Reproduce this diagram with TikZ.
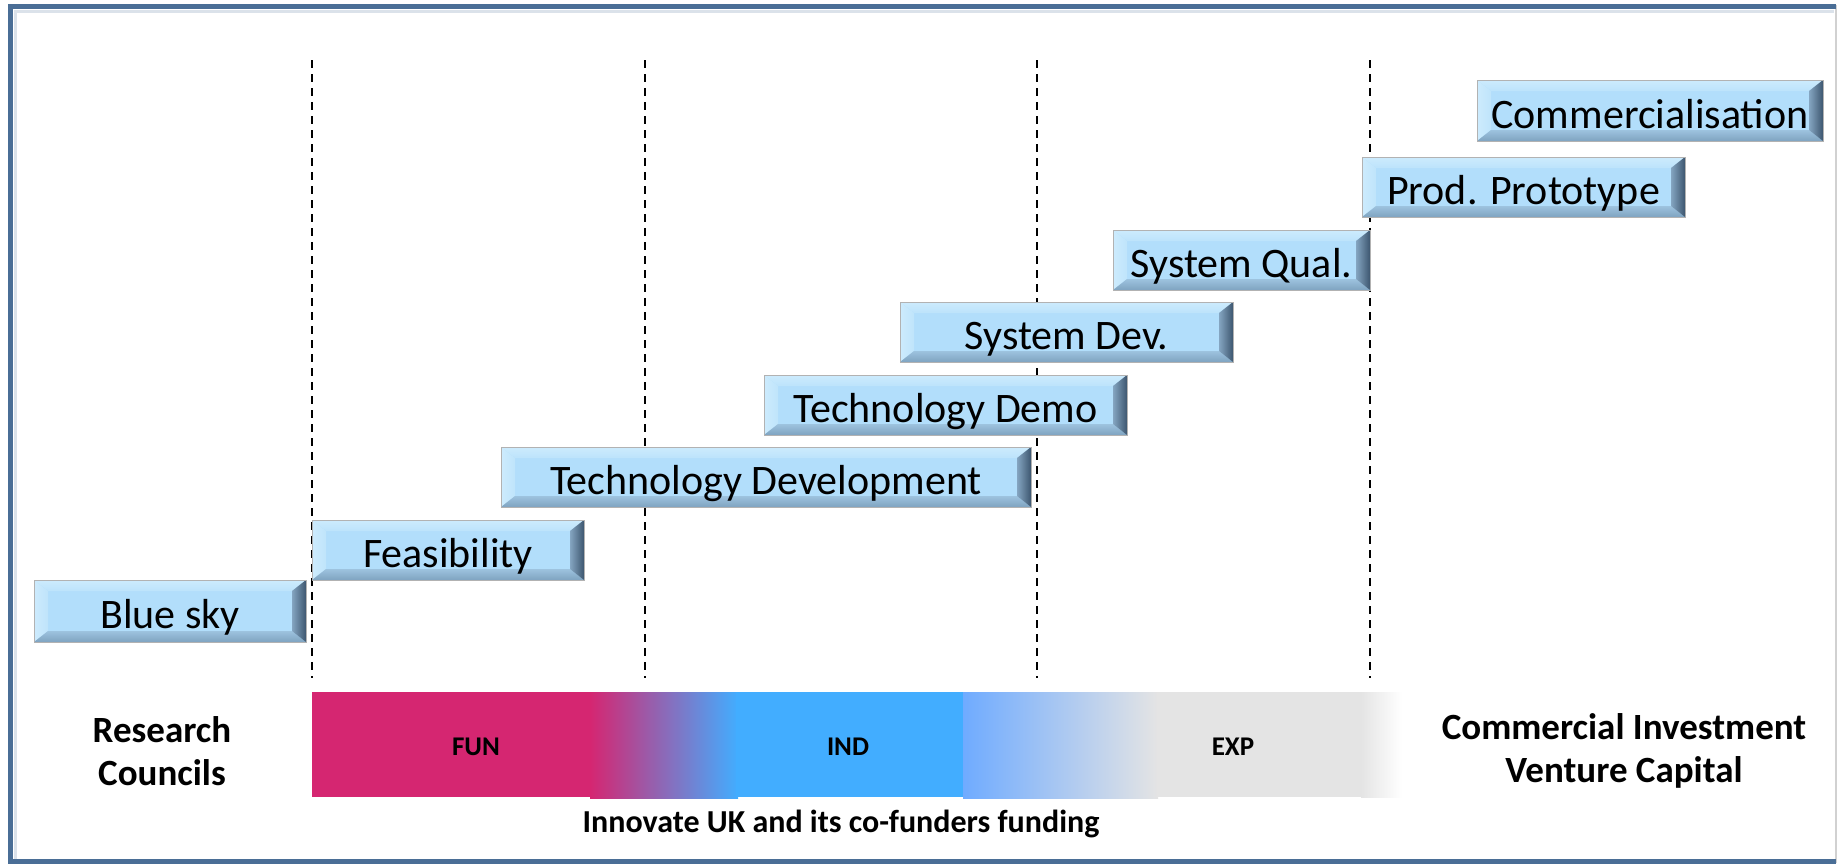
\documentclass[tikz,border=0pt]{standalone}
\usepackage{fontspec}
\setmainfont{Carlito}
\usetikzlibrary{calc}
\definecolor{pinkc}{HTML}{D52671}
\definecolor{bluec}{HTML}{42ADFF}
\definecolor{lbluec}{HTML}{6FABFF}
\definecolor{grayc}{HTML}{E4E4E4}
\definecolor{framec}{HTML}{4A6E96}
\definecolor{facec}{HTML}{B2DEFB}
\definecolor{toplc}{HTML}{CDEBFD}
\definecolor{topdc}{HTML}{BCE3FB}
\definecolor{leftc}{HTML}{BFE4FB}
\definecolor{botlc}{HTML}{9DC3DF}
\definecolor{botdc}{HTML}{7FA3C0}
\definecolor{riglc}{HTML}{84A5C1}
\definecolor{rigdc}{HTML}{3D566F}
\tikzset{
  stagebox/.style={draw=black!30, line width=0.7pt, fill=facec, inner sep=0pt, outer sep=0pt,
    anchor=north west, font=\fontsize{42}{48}\selectfont, text=black,
    text height=40pt, text depth=5pt,
    path picture={
      \path (path picture bounding box.north west) coordinate (pNW)
            (path picture bounding box.north east) coordinate (pNE)
            (path picture bounding box.south west) coordinate (pSW)
            (path picture bounding box.south east) coordinate (pSE);
      \shade[top color=toplc, bottom color=topdc] (pNW) -- (pNE) -- ([shift={(-14pt,-11pt)}]pNE) -- ([shift={(14pt,-11pt)}]pNW) -- cycle;
      \shade[left color=toplc, right color=leftc] (pNW) -- ([shift={(14pt,-11pt)}]pNW) -- ([shift={(14pt,11pt)}]pSW) -- (pSW) -- cycle;
      \shade[top color=botlc, bottom color=botdc] (pSW) -- ([shift={(14pt,11pt)}]pSW) -- ([shift={(-14pt,11pt)}]pSE) -- (pSE) -- cycle;
      \shade[left color=riglc, right color=rigdc] (pNE) -- (pSE) -- ([shift={(-14pt,11pt)}]pSE) -- ([shift={(-14pt,-11pt)}]pNE) -- cycle;
    }},
  divider/.style={black, line width=1.8pt, dash pattern=on 8pt off 6pt},
  sidelabel/.style={font=\bfseries\fontsize{37}{43}\selectfont, align=center, text=black},
  barlabel/.style={font=\bfseries\fontsize{27}{30}\selectfont, text=black},
}
\begin{document}
\begin{tikzpicture}[x=1pt,y=-1pt]
\useasboundingbox (0,0) rectangle (1841,865);
\fill[white] (0,0) rectangle (1841,865);
% frame
\draw[framec!20, line width=3pt] (15,860) -- (15,11) -- (1834,11);
\draw[black!18, line width=1.5pt] (1836,5) -- (1836,863);
\draw[framec, line width=5pt] (1836,861) -- (10.5,861) -- (10.5,6.5) -- (1836,6.5);
% dividers
\foreach \n/\x in {d1/312, d2/645, d3/1037, d4/1370}{
  \coordinate (\n top) at (\x,60);
  \coordinate (\n bot) at (\x,678);
  \draw[divider] (\n top) -- (\n bot);
}
% funding bar
\fill[pinkc] (312,692) rectangle (592,797);
\shade[left color=pinkc, right color=bluec] (590,692) rectangle (738,798);
\fill[bluec] (736,692) rectangle (963,797);
\shade[left color=lbluec, right color=grayc] (963,692) rectangle (1158,798);
\fill[grayc] (1157,692) rectangle (1362,797);
\shade[left color=grayc, right color=white] (1361,692) rectangle (1402,797);
\node[barlabel] (fun) at (476,747) {FUN};
\node[barlabel] (ind) at (848,747) {IND};
\node[barlabel] (exp) at (1233,747) {EXP};
\node[sidelabel] (rc) at (162,751) {Research\\Councils};
\node[sidelabel] (ci) at (1624,751) {Commercial Investment\\Venture Capital};
\node[font=\bfseries\fontsize{32}{36}\selectfont] (iuk) at (841,824) {Innovate UK and its co-funders funding};
% stage boxes
\node[stagebox, minimum width=272pt, minimum height=62pt] (bluesky) at (34,580) {Blue sky};
\node[stagebox, minimum width=272pt, minimum height=60pt] (feas) at (312,520) {Feasibility};
\node[stagebox, minimum width=530pt, minimum height=60pt] (techdev) at (501,447) {Technology Development};
\node[stagebox, minimum width=363pt, minimum height=60pt] (techdemo) at (764,375) {Technology Demo};
\node[stagebox, minimum width=333pt, minimum height=60pt] (sysdev) at (900,302) {System Dev.};
\node[stagebox, minimum width=257pt, minimum height=60pt] (sysqual) at (1113,230) {System Qual.};
\node[stagebox, minimum width=323pt, minimum height=60pt] (prodproto) at (1362,157) {Prod. Prototype};
\node[stagebox, minimum width=346pt, minimum height=61pt] (comm) at (1477,80) {Commercialisation};
\end{tikzpicture}
\end{document}
